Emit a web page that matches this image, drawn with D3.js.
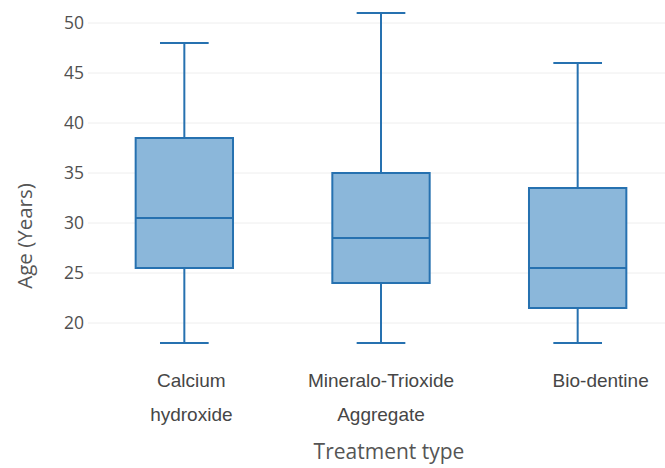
<!DOCTYPE html>
<html>
<head>
<meta charset="utf-8">
<script src="https://cdn.jsdelivr.net/npm/d3@7"></script>
<style>
  body { margin: 0; background: #fff; }
  svg { display: block; font-family: "Open Sans", Arial, sans-serif; }
</style>
</head>
<body>
<div id="chart"></div>
<script>
// box statistics
var groups = ["Calcium hydroxide", "Mineralo-Trioxide Aggregate", "Bio-dentine"];
var labelLines = [["Calcium", "hydroxide"], ["Mineralo-Trioxide", "Aggregate"], ["Bio-dentine"]];
var mins = [18, 18, 18];
var q1s = [25.5, 24, 21.5];
var medians = [30.5, 28.5, 25.5];
var q3s = [38.5, 35, 33.5];
var maxs = [48, 51, 46];
var yTicks = [20, 25, 30, 35, 40, 45, 50];

var w = 665, h = 468;

var svg = d3.select("#chart").append("svg")
  .attr("width", w).attr("height", h);

var x = d3.scaleBand().domain(groups).range([86, 676]);
var y = d3.scaleLinear().domain([20, 50]).range([323, 23]);

// gridlines
svg.append("g").selectAll("line")
  .data(yTicks).enter().append("line")
  .attr("x1", 88).attr("x2", w)
  .attr("y1", d => y(d)).attr("y2", d => y(d))
  .attr("stroke", "#eee").attr("stroke-width", 1);

// y tick labels
var yAxis = d3.axisLeft(y).tickValues(yTicks).tickSize(0).tickPadding(0);
svg.append("g")
  .attr("transform", "translate(84,0)")
  .call(yAxis)
  .call(g => g.select(".domain").remove())
  .selectAll("text")
  .attr("font-size", 17.5)
  .attr("font-family", "\"Open Sans\", sans-serif")
  .attr("fill", "#505050");

svg.append("text")
  .attr("transform", "translate(32,236) rotate(-90)")
  .attr("text-anchor", "middle")
  .attr("font-size", 20.5)
  .attr("fill", "#555")
  .text("Age (Years)");

var boxW = x.bandwidth() * 0.495;
var capW = boxW / 2;
var blue = "#2671b0";

var data = groups.map((g, i) => ({g: g, min: mins[i], q1: q1s[i], med: medians[i], q3: q3s[i], max: maxs[i]}));

var box = svg.append("g").selectAll("g")
  .data(data).enter().append("g")
  .attr("transform", d => "translate(" + (x(d.g) + x.bandwidth() / 2) + ",0)");

// whiskers
box.append("line").attr("x1", 0).attr("x2", 0)
  .attr("y1", d => y(d.max)).attr("y2", d => y(d.q3))
  .attr("stroke", blue).attr("stroke-width", 2);
box.append("line").attr("x1", 0).attr("x2", 0)
  .attr("y1", d => y(d.q1)).attr("y2", d => y(d.min))
  .attr("stroke", blue).attr("stroke-width", 2);
box.append("line").attr("x1", -capW / 2).attr("x2", capW / 2)
  .attr("y1", d => y(d.max)).attr("y2", d => y(d.max))
  .attr("stroke", blue).attr("stroke-width", 2);
box.append("line").attr("x1", -capW / 2).attr("x2", capW / 2)
  .attr("y1", d => y(d.min)).attr("y2", d => y(d.min))
  .attr("stroke", blue).attr("stroke-width", 2);

// box
box.append("rect")
  .attr("x", -boxW / 2).attr("width", boxW)
  .attr("y", d => y(d.q3)).attr("height", d => y(d.q1) - y(d.q3))
  .attr("fill", "#8bb7da").attr("stroke", blue).attr("stroke-width", 2);
box.append("line").attr("x1", -boxW / 2).attr("x2", boxW / 2)
  .attr("y1", d => y(d.med)).attr("y2", d => y(d.med))
  .attr("stroke", blue).attr("stroke-width", 2);

// category labels (the picture has them nudged a little off centre)
var labelDx = [7, 0, 23];
var lab = svg.append("g").selectAll("text")
  .data(groups).enter().append("text")
  .attr("text-anchor", "middle")
  .attr("font-family", "Arial, \"Liberation Sans\", sans-serif")
  .attr("font-size", 19)
  .attr("fill", "#464646")
  .attr("transform", (d, i) => "translate(" + (x(d) + x.bandwidth() / 2 + labelDx[i]) + ",387)");
lab.selectAll("tspan")
  .data((d, i) => labelLines[i]).enter().append("tspan")
  .attr("x", 0).attr("y", (d, i) => i * 34)
  .text(d => d);

svg.append("text")
  .attr("x", 389).attr("y", 459)
  .attr("text-anchor", "middle")
  .attr("font-size", 21)
  .attr("fill", "#555")
  .text("Treatment type");
</script>
</body>
</html>
